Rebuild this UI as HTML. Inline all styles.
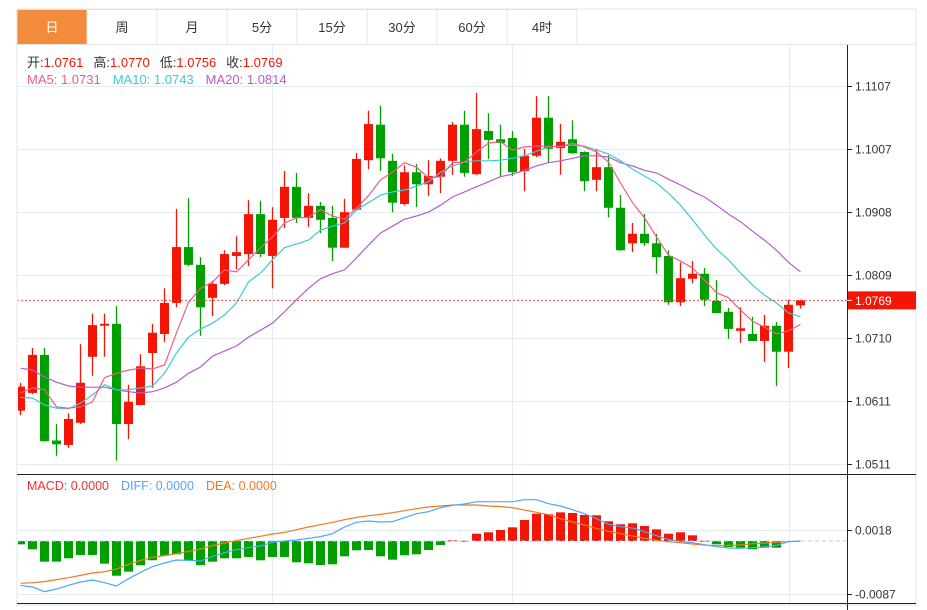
<!DOCTYPE html>
<html><head><meta charset="utf-8">
<style>
body{margin:0;background:#fff;font-family:"Liberation Sans","Noto Sans CJK SC",sans-serif;}
svg{display:block}
</style></head>
<body>
<svg id="chart" width="927" height="610" viewBox="0 0 927 610" xmlns="http://www.w3.org/2000/svg">
<defs><clipPath id="plotclip"><rect x="18" y="45" width="829" height="560"/></clipPath></defs>
<g id="tabs"></g>
<g id="grid"></g>
<g id="marks" clip-path="url(#plotclip)"></g>
<g id="axes"></g>
<g font-size="13">
  <text x="27" y="67"><tspan fill="#333">开:</tspan><tspan fill="#f31505">1.0761</tspan><tspan fill="#333" dx="10">高:</tspan><tspan fill="#f31505">1.0770</tspan><tspan fill="#333" dx="10">低:</tspan><tspan fill="#f31505">1.0756</tspan><tspan fill="#333" dx="10">收:</tspan><tspan fill="#f31505">1.0769</tspan></text>
  <text x="27" y="84"><tspan fill="#ee5b8d">MA5: 1.0731</tspan><tspan fill="#3cc8dc" dx="12">MA10: 1.0743</tspan><tspan fill="#b65ccc" dx="12">MA20: 1.0814</tspan></text>
  <text x="27" y="490" font-size="12.5"><tspan fill="#f03030">MACD: 0.0000</tspan><tspan fill="#4da6ff" dx="12">DIFF: 0.0000</tspan><tspan fill="#f07a1c" dx="12">DEA: 0.0000</tspan></text>
</g>
</svg>
<script>
const opens=[1.0595,1.0623,1.0683,1.0548,1.0541,1.0576,1.0680,1.0729,1.0732,1.0574,1.0604,1.0686,1.0716,1.0765,1.0853,1.0825,1.0773,1.0795,1.0839,1.0842,1.0905,1.0839,1.0899,1.0948,1.0899,1.0918,1.0899,1.0852,1.0912,1.0990,1.1046,1.0989,1.0921,1.0971,1.0952,1.0964,1.0989,1.1046,1.0968,1.1036,1.1023,1.1025,1.0973,1.0997,1.1057,1.1009,1.1023,1.1003,1.0959,1.0979,1.0915,1.0859,1.0874,1.0859,1.0839,1.0766,1.0803,1.0811,1.0768,1.0751,1.0721,1.0716,1.0705,1.0729,1.0688,1.0761];
const highs=[1.0639,1.0694,1.0694,1.0574,1.0591,1.0700,1.0748,1.0748,1.0760,1.0636,1.0684,1.0732,1.0788,1.0913,1.0930,1.0837,1.0800,1.0848,1.0870,1.0927,1.0926,1.0916,1.0973,1.0970,1.0938,1.0924,1.0918,1.0929,1.1001,1.1068,1.1076,1.1000,1.0982,1.0984,1.0990,1.0993,1.1050,1.1068,1.1096,1.1064,1.1046,1.1036,1.1008,1.1091,1.1091,1.1047,1.1053,1.1004,1.1008,1.0998,1.0935,1.0891,1.0905,1.0874,1.0848,1.0829,1.0831,1.0820,1.0801,1.0757,1.0758,1.0743,1.0746,1.0735,1.0770,1.0770];
const lows=[1.0588,1.0621,1.0546,1.0524,1.0536,1.0574,1.0650,1.0680,1.0516,1.0550,1.0604,1.0631,1.0703,1.0758,1.0823,1.0713,1.0744,1.0793,1.0818,1.0823,1.0837,1.0788,1.0883,1.0891,1.0885,1.0875,1.0831,1.0852,1.0910,1.0976,1.0973,1.0908,1.0919,1.0916,1.0934,1.0938,1.0967,1.0964,1.0967,1.0992,1.0964,1.0965,1.0941,1.0995,1.0986,1.0967,1.1000,1.0941,1.0941,1.0900,1.0847,1.0845,1.0855,1.0811,1.0762,1.0760,1.0796,1.0760,1.0749,1.0708,1.0702,1.0705,1.0672,1.0634,1.0662,1.0756];
const closes=[1.0633,1.0683,1.0547,1.0542,1.0582,1.0639,1.0730,1.0732,1.0574,1.0609,1.0665,1.0718,1.0765,1.0853,1.0825,1.0758,1.0795,1.0842,1.0845,1.0905,1.0842,1.0896,1.0948,1.0899,1.0918,1.0896,1.0852,1.0908,1.0992,1.1047,1.0993,1.0923,1.0971,1.0952,1.0965,1.0989,1.1046,1.0970,1.1039,1.1022,1.1017,1.0971,1.0997,1.1057,1.1008,1.1019,1.1001,1.0957,1.0979,1.0915,1.0848,1.0874,1.0859,1.0837,1.0766,1.0804,1.0811,1.0770,1.0749,1.0724,1.0725,1.0705,1.0729,1.0688,1.0762,1.0769];
const ma5=[1.0623,1.0631,1.0628,1.0601,1.0599,1.0601,1.0609,1.0647,1.0654,1.0659,1.0662,1.0661,1.0667,1.0718,1.0766,1.0788,1.0798,1.0817,1.0814,1.0833,1.0852,1.0869,1.0891,1.0899,1.0900,1.0912,1.0902,1.0897,1.0915,1.0934,1.0959,1.0971,1.0986,1.0979,1.0962,1.0964,1.0986,1.0987,1.1003,1.1017,1.1019,1.1006,1.1011,1.1012,1.1012,1.1011,1.1017,1.1011,1.1003,1.0987,1.0954,1.0923,1.0899,1.0869,1.0840,1.0831,1.0820,1.0801,1.0781,1.0773,1.0754,1.0736,1.0727,1.0716,1.0721,1.0731];
const ma10=[1.0616,1.0615,1.0604,1.0599,1.0598,1.0607,1.0620,1.0636,1.0628,1.0628,1.0631,1.0634,1.0654,1.0686,1.0711,1.0724,1.0733,1.0746,1.0765,1.0798,1.0812,1.0833,1.0852,1.0858,1.0864,1.0880,1.0886,1.0891,1.0912,1.0923,1.0935,1.0940,1.0943,1.0949,1.0956,1.0971,1.0981,1.0987,1.0989,1.0989,1.0990,1.0993,1.0997,1.1004,1.1011,1.1012,1.1014,1.1012,1.1006,1.1000,1.0989,1.0976,1.0965,1.0954,1.0938,1.0919,1.0896,1.0872,1.0850,1.0833,1.0812,1.0793,1.0777,1.0765,1.0749,1.0743];
const ma20=[1.0662,1.0659,1.0648,1.0640,1.0634,1.0632,1.0632,1.0632,1.0628,1.0625,1.0623,1.0625,1.0631,1.0640,1.0654,1.0664,1.0681,1.0689,1.0697,1.0711,1.0722,1.0733,1.0751,1.0770,1.0788,1.0803,1.0811,1.0817,1.0836,1.0856,1.0875,1.0886,1.0897,1.0902,1.0908,1.0919,1.0932,1.0940,1.0948,1.0956,1.0964,1.0968,1.0974,1.0981,1.0986,1.0989,1.0993,1.0997,1.0997,1.0995,1.0986,1.0981,1.0974,1.0970,1.0960,1.0951,1.0941,1.0932,1.0919,1.0905,1.0893,1.0878,1.0864,1.0848,1.0829,1.0814];
// MACD values in units of 0.0001
const macdHist=[-5.5,-13.7,-34.2,-34.2,-28.6,-23.1,-23.1,-37.5,-57.4,-50.7,-40.2,-31.9,-24.3,-22.0,-31.9,-39.7,-34.2,-28.6,-28.6,-26.4,-31.9,-26.4,-26.4,-35.2,-36.9,-39.7,-38.5,-25.3,-15.4,-14.9,-25.3,-30.9,-23.6,-22.0,-14.9,-6.6,1.2,0.5,12.1,14.4,18.2,22.6,34.7,45.1,44.1,47.4,46.3,43.0,42.5,32.6,27.6,29.3,24.8,19.3,12.1,14.4,9.4,0.5,-5.5,-9.9,-11.1,-13.7,-11.1,-11.1,0,0];
const diff=[-73.3,-76.0,-83.8,-79.3,-73.3,-67.8,-64.5,-68.9,-74.4,-62.3,-51.8,-42.4,-36.4,-31.4,-32.0,-33.1,-25.3,-19.3,-14.3,-11.0,-8.3,-2.2,0,1.7,4.4,7.2,12.1,23.1,30.9,33.1,31.4,32.0,38.6,45.2,48.5,55.1,59.0,61.2,65.0,65.0,65.0,65.0,68.3,68.3,61.7,57.9,51.8,45.2,36.9,27.6,23.7,21.5,15.4,8.8,2.2,-0.6,-2.8,-6.1,-9.4,-11.6,-12.1,-11.0,-9.9,-7.2,-1.1,0];
const dea=[-70.0,-68.9,-67.2,-63.9,-60.6,-56.8,-52.9,-50.7,-46.3,-38.6,-32.0,-27.0,-24.2,-20.9,-17.1,-13.2,-7.7,-3.3,0.6,4.4,7.7,11.6,14.3,18.7,23.1,27.0,30.9,35.3,39.1,41.9,44.1,46.8,50.1,53.4,56.2,57.9,59.5,59.5,59.5,57.9,56.8,55.1,51.2,47.4,43.5,36.9,31.4,26.4,20.9,16.0,12.1,8.3,4.4,1.1,-1.1,-2.8,-5.0,-6.6,-7.7,-7.2,-6.6,-4.4,-3.3,-2.2,-1.1,0];
const priceTicks=["1.1107","1.1007","1.0908","1.0809","1.0710","1.0611","1.0511"];
const macdTicks=["0.0018","-0.0087"];
const tabLabels=["日","周","月","5分","15分","30分","60分","4时"];
const lastPrice=1.0769;

const NS="http://www.w3.org/2000/svg";
function mk(parent,tag,attrs){const e=document.createElementNS(NS,tag);for(const k in attrs)e.setAttribute(k,attrs[k]);parent.appendChild(e);return e;}
const L=17,R=916,AX=847;
const xAt=i=>20.5+12*i;
const yP=p=>86+(1.1107-p)*6342;
const yM=v=>541-(v/10000)*6048;
const RED="#f31505",GREEN="#00a000";

const tabs=document.getElementById('tabs');
let fr=mk(tabs,'rect',{x:L,y:9,width:R-L,height:596,fill:'none',stroke:'#e3e6ea'});


mk(tabs,'line',{x1:L,y1:44.5,x2:R,y2:44.5,stroke:'#dfe3e8'});
tabLabels.forEach((t,i)=>{
  const g=mk(tabs,'g',{});
  
  
  const x=L+70*i;
  mk(g,'rect',{x:x,y:9.5,width:70,height:35,fill:i===0?'#f28c3c':'#fff',stroke:'#dfe3e8'});
  const tx=mk(g,'text',{x:x+35,y:32,'text-anchor':'middle','font-size':13,fill:i===0?'#fff':'#333'});
  tx.textContent=t;
});

const grid=document.getElementById('grid');
priceTicks.forEach(t=>{const y=Math.round(yP(parseFloat(t)))+0.5;mk(grid,'line',{x1:L,y1:y,x2:AX,y2:y,stroke:'#e3ecf3'});});
macdTicks.forEach(t=>{const y=Math.round(yM(parseFloat(t)*10000))+0.5;mk(grid,'line',{x1:L,y1:y,x2:AX,y2:y,stroke:'#e3ecf3'});});
[272.5,512.5,789.5].forEach(x=>{mk(grid,'line',{x1:x,y1:45,x2:x,y2:605,stroke:'#e3ecf3'});});

const marks=document.getElementById('marks');
const candles=mk(marks,'g',{});


for(let i=0;i<closes.length;i++){
  const up=closes[i]>=opens[i];const col=up?RED:GREEN;const x=xAt(i);
  const g=mk(candles,'g',{});
  
  
  mk(g,'line',{x1:x,y1:yP(highs[i]),x2:x,y2:yP(lows[i]),stroke:col,'stroke-width':1.3});
  const top=yP(Math.max(opens[i],closes[i])),bot=yP(Math.min(opens[i],closes[i]));
  mk(g,'rect',{x:x-4.5,y:top,width:9,height:Math.max(1.5,bot-top),fill:col});
}
function line(arr,col,name,yf){
  const p=mk(marks,'polyline',{points:arr.map((v,i)=>xAt(i)+','+yf(v).toFixed(1)).join(' '),fill:'none',stroke:col,'stroke-width':1.2});
  
  
}
line(ma20,'#b65ccc','ma20-line',yP);
line(ma10,'#3cc8dc','ma10-line',yP);
line(ma5,'#ee5b8d','ma5-line',yP);
const ly=yP(lastPrice);
const pl=mk(marks,'line',{x1:L,y1:ly,x2:AX,y2:ly,stroke:'#f35050','stroke-width':1,'stroke-dasharray':'2,2'});



const hist=mk(marks,'g',{});


const z=yM(0);
const zl=mk(marks,'line',{x1:L,y1:z,x2:AX,y2:z,stroke:'#a8d8f0','stroke-dasharray':'4,3'});


macdHist.forEach((v,i)=>{
  if(v===0)return;
  const y=yM(v);
  const r=mk(hist,'rect',{x:xAt(i)-4.5,y:Math.min(y,z),width:9,height:Math.max(1,Math.abs(y-z)),fill:v>0?RED:GREEN});
  
  
});
line(dea,'#f07a1c','dea-line',yM);
line(diff,'#4da6ff','diff-line',yM);

const axes=document.getElementById('axes');
mk(axes,'line',{x1:AX+0.5,y1:45,x2:AX+0.5,y2:610,stroke:'#222'});
mk(axes,'line',{x1:L,y1:474.5,x2:R,y2:474.5,stroke:'#222'});
mk(axes,'line',{x1:L,y1:603.5,x2:R,y2:603.5,stroke:'#222'});
priceTicks.concat(macdTicks).forEach((t,k)=>{
  const y=k<priceTicks.length?Math.round(yP(parseFloat(t)))+0.5:Math.round(yM(parseFloat(t)*10000))+0.5;
  mk(axes,'line',{x1:AX,y1:y,x2:AX+5,y2:y,stroke:'#222'});
  const tx=mk(axes,'text',{x:855,y:y+4,'font-size':12,fill:'#333'});
  
  
  tx.textContent=t;
});
const tag=mk(axes,'g',{});


mk(tag,'rect',{x:AX+1,y:ly-9,width:R-AX-1,height:18,fill:RED});
mk(tag,'line',{x1:AX,y1:ly,x2:AX+5,y2:ly,stroke:'#fff'});
const tt=mk(tag,'text',{x:855,y:ly+4.5,'font-size':12,fill:'#fff'});
tt.textContent=lastPrice.toFixed(4);
</script>
</body></html>
